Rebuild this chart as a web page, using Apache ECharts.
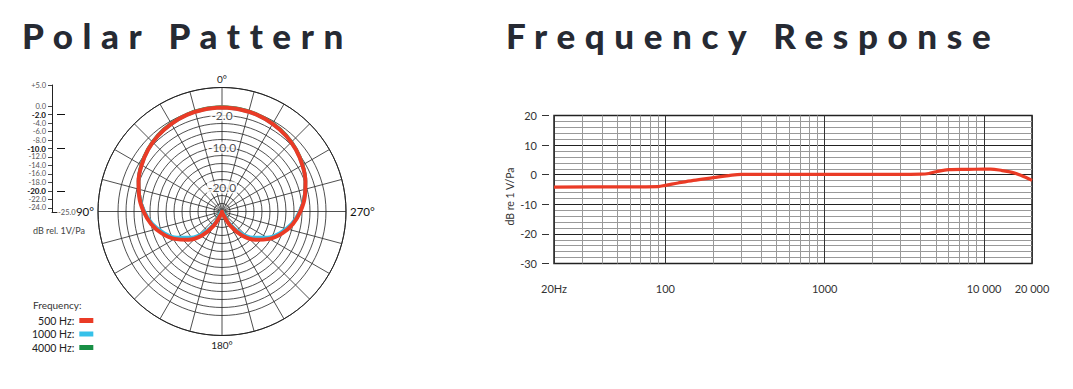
<!DOCTYPE html>
<html><head><meta charset="utf-8">
<script src="https://cdn.jsdelivr.net/npm/echarts@6/dist/echarts.min.js"></script>
<style>
html,body{margin:0;padding:0;background:#fff}
#c{width:1073px;height:389px}
#c text[style*="35px"]{letter-spacing:9.6px}
</style></head><body><div id="c"></div>
<script>
// ---- Polar pattern data (dB rel. 1V/Pa) ----
const polarAngles = [0,10,20,30,40,50,60,70,80,90,100,110,120,130,140,150,160,170,180,190,200,210,220,230,240,250,260,270,280,290,300,310,320,330,340,350,360];
const db500  = [0,-0.1,-0.3,-0.7,-1.2,-1.9,-2.8,-3.8,-5.0,-6.4,-8.0,-10.0,-12.3,-15.0,-18.2,-22.0,-25.5,-26,-26,-26,-25.5,-22.0,-18.2,-15.0,-12.3,-10.0,-8.0,-6.4,-5.0,-3.8,-2.8,-1.9,-1.2,-0.7,-0.3,-0.1,0];
const db1000 = [0,-0.1,-0.3,-0.7,-1.2,-1.9,-2.8,-3.8,-5.1,-6.6,-8.3,-10.5,-13.0,-15.9,-19.2,-23.0,-26,-26,-26,-26,-26,-23.0,-19.2,-15.9,-13.0,-10.5,-8.3,-6.6,-5.1,-3.8,-2.8,-1.9,-1.2,-0.7,-0.3,-0.1,0];
const db4000 = [0.1,0,-0.2,-0.6,-1.1,-1.8,-2.7,-3.8,-5.1,-6.5,-8.1,-10.2,-12.6,-15.4,-18.7,-22.5,-26,-26,-26,-26,-26,-22.5,-18.7,-15.4,-12.6,-10.2,-8.1,-6.5,-5.1,-3.8,-2.7,-1.8,-1.1,-0.6,-0.2,0,0.1];
const polarSeriesNames = ['500 Hz','1000 Hz','4000 Hz'];
const ringTicks = [-26,-24,-22,-20,-18,-16,-14,-12,-10,-8,-6,-4,-2,0,2,4,5];
const ringLabels = [-2,-10,-20];
const angleLabels = {0:'0°',90:'90°',180:'180°',270:'270°'};

// ---- Side scale ----
const scaleValues = [5,4,3,2,1,0,-1,-2,-3,-4,-5,-6,-7,-8,-9,-10,-11,-12,-13,-14,-15,-16,-17,-18,-19,-20,-21,-22,-23,-24,-25];
const scaleLabels = ['+5.0','','','','','0.0','','-2.0','','-4.0','','-6.0','','-8.0','','-10.0','','-12.0','','-14.0','','-16.0','','-18.0','','-20.0','','-22.0','','-24.0',''];
const scaleMajor = ['-2.0','-10.0','-20.0'];
const scaleEndLabel = '-25.0';

// ---- Frequency response data ----
const freqHz = [20,50,90,100,120,150,200,250,300,500,1000,2000,4000,4500,5000,6000,8000,10000,11000,13000,15000,17000,20000];
const respDb = [-4.2,-4.1,-4.0,-3.6,-2.8,-1.9,-1.0,-0.3,0.1,0.1,0.1,0.1,0.2,0.4,1.0,1.7,1.8,1.9,1.9,1.4,0.8,-0.2,-1.9];
const freqTickValues = [20,100,1000,10000,20000];
const freqTickLabels = ['20Hz','100','1000','10 000','20 000'];
const freqMinorLines = [30,40,50,60,70,80,90,200,300,400,500,600,700,800,900,2000,3000,4000,5000,6000,7000,8000,9000];

const RED = '#ea3b26', CYAN = '#36c1e9', GREEN = '#188f45';
const FONT = 'Lato';

const chart = echarts.init(document.getElementById('c'), null, {renderer: 'svg'});

function polarData(vals){ return polarAngles.map((a,i)=>[vals[i], a]); }

const option = {
  animation: false,
  textStyle: {fontFamily: FONT},
  title: [
    {text: 'Polar Pattern', left: 17, top: 12, textStyle: {fontFamily: FONT, fontSize: 35, fontWeight: 900, color: '#262a33'}},
    {text: 'Frequency Response', left: 501, top: 12, textStyle: {fontFamily: FONT, fontSize: 35, fontWeight: 900, color: '#262a33'}},
    {text: 'Frequency:', left: 28, top: 295, textStyle: {fontFamily: FONT, fontSize: 10, fontWeight: 'normal', color: '#333'}},
    {text: 'dB rel. 1V/Pa', left: 28, top: 221, textStyle: {fontFamily: FONT, fontSize: 9, fontWeight: 'normal', color: '#444'}}
  ],
  legend: {
    data: polarSeriesNames,
    orient: 'vertical', align: 'right',
    left: 27, top: 310,
    itemWidth: 14, itemHeight: 5, itemGap: 2.5,
    icon: 'rect',
    formatter: '{name}:',
    textStyle: {fontFamily: FONT, fontSize: 10.5, color: '#222'},
    selectedMode: false
  },
  polar: {center: [222, 211.5], radius: 124},
  angleAxis: {
    type: 'value', min: 0, max: 360, interval: 15,
    startAngle: 90, clockwise: false,
    axisLine: {show: true, lineStyle: {color: '#222', width: 1}},
    axisTick: {show: false},
    splitLine: {show: true, lineStyle: {color: '#222', width: 0.8}},
    axisLabel: {
      margin: 4,
      formatter: v => { const s = angleLabels[v]; if (!s || v === 360) return ''; return (v === 90 || v === 270) ? '{b|' + s + '}' : '{a|' + s + '}'; },
      rich: {a: {fontSize: 10, color: '#222', fontFamily: FONT}, b: {fontSize: 11.5, color: '#111', fontFamily: FONT}}
    }
  },
  radiusAxis: {
    type: 'value', min: -26, max: 5, interval: 2,
    axisLine: {show: false}, axisTick: {show: false}, axisLabel: {show: false},
    splitLine: {show: true, lineStyle: {width: 0.8, color: ringTicks.map(v => (v > 0 && v < 5) ? 'rgba(0,0,0,0)' : '#222')}}
  },
  grid: [
    {left: 554, right: 41, top: 115.5, height: 148, show: true, borderColor: '#222', borderWidth: 1.5, backgroundColor: 'transparent'},
    {left: 52, top: 85, width: 5, height: 127}
  ],
  xAxis: [
    {
      gridIndex: 0, type: 'log', logBase: 10, min: 20, max: 20000, offset: 5,
      axisLine: {show: false},
      axisTick: {show: true, length: 6, lineStyle: {color: '#333'}},
      axisLabel: {margin: 14, fontSize: 11, color: '#333', fontFamily: FONT, showMinLabel: true, showMaxLabel: true,
        formatter: v => { const i = freqTickValues.indexOf(Math.round(v)); return i >= 0 ? freqTickLabels[i] : ''; }},
      splitLine: {show: true, lineStyle: {color: '#333', width: 1}}
    },
    {
      gridIndex: 1, type: 'value', min: 0, max: 1,
      axisLine: {show: true, onZero: false, lineStyle: {color: '#222', width: 1}},
      axisTick: {show: false}, axisLabel: {show: false}, splitLine: {show: false}
    }
  ],
  yAxis: [
    {
      gridIndex: 0, type: 'value', min: -30, max: 20, interval: 10, offset: 5,
      name: 'dB re 1 V/Pa', nameLocation: 'middle', nameGap: 34, nameRotate: 90,
      nameTextStyle: {fontSize: 10.5, color: '#333', fontFamily: FONT, padding: [0, 0, 0, -14]},
      axisLine: {show: false},
      axisTick: {show: true, length: 7, lineStyle: {color: '#333'}},
      axisLabel: {margin: 12, fontSize: 11, color: '#333', fontFamily: FONT},
      splitLine: {show: true, lineStyle: {color: '#222', width: 1}},
      minorTick: {show: false, splitNumber: 5},
      minorSplitLine: {show: true, lineStyle: {color: '#999', width: 1}}
    },
    {
      gridIndex: 1, type: 'category', data: scaleValues, inverse: true, boundaryGap: false,
      axisLine: {show: true, lineStyle: {color: '#222', width: 1}},
      axisTick: {show: true, length: 4, interval: (i) => scaleLabels[i] !== '', lineStyle: {color: '#444'}},
      axisLabel: {interval: 0, margin: 6, fontSize: 7.5, color: '#555', fontFamily: FONT,
        formatter: (v, i) => { const s = scaleLabels[i]; return scaleMajor.indexOf(s) >= 0 ? '{m|' + s + '}' : s; },
        rich: {m: {fontSize: 8, fontWeight: 'bold', color: '#111', fontFamily: FONT}}},
      splitLine: {show: false}
    },
    {
      gridIndex: 1, type: 'category', data: scaleValues, inverse: true, boundaryGap: false,
      axisLine: {show: false},
      axisTick: {show: true, length: 8, interval: (i) => scaleMajor.indexOf(scaleLabels[i]) >= 0, lineStyle: {color: '#111'}},
      axisLabel: {show: false}, splitLine: {show: false}
    },
    {
      gridIndex: 1, type: 'category', data: scaleValues, inverse: true, boundaryGap: false, position: 'right',
      axisLine: {show: false}, axisTick: {show: false},
      axisLabel: {interval: 0, margin: 1, fontSize: 7.5, color: '#555', fontFamily: FONT,
        formatter: (v, i) => i === scaleValues.length - 1 ? scaleEndLabel : ''},
      splitLine: {show: false}
    }
  ],
  series: [
    {name: '4000 Hz', type: 'line', coordinateSystem: 'polar', data: polarData(db4000), smooth: 0.4, showSymbol: false, lineStyle: {color: GREEN, width: 3.5}, itemStyle: {color: GREEN}, z: 3},
    {name: '1000 Hz', type: 'line', coordinateSystem: 'polar', data: polarData(db1000), smooth: 0.4, showSymbol: false, lineStyle: {color: CYAN, width: 3.5}, itemStyle: {color: CYAN}, z: 4},
    {name: '500 Hz', type: 'line', coordinateSystem: 'polar', data: polarData(db500), smooth: 0.4, showSymbol: false, lineStyle: {color: RED, width: 4}, itemStyle: {color: RED}, z: 5},
    {name: 'ring labels', type: 'scatter', coordinateSystem: 'polar', data: ringLabels.map(v => [v, 0]), symbolSize: 1, itemStyle: {color: 'rgba(0,0,0,0)'}, z: 2,
      label: {show: true, position: 'inside', formatter: p => p.value[0].toFixed(1), backgroundColor: '#fff', padding: [0, 1], fontSize: 12, color: '#222', fontFamily: FONT}},
    {name: 'Response', type: 'line', xAxisIndex: 0, yAxisIndex: 0, data: freqHz.map((f, i) => [f, respDb[i]]), smooth: 0.35, showSymbol: false,
      lineStyle: {color: RED, width: 3.2}, itemStyle: {color: RED}, z: 5,
      markLine: {silent: true, symbol: ['none', 'none'], label: {show: false}, animation: false,
        lineStyle: {color: '#999', width: 1, type: 'solid'}, data: freqMinorLines.map(f => ({xAxis: f}))}}
  ]
};
chart.setOption(option);
</script></body></html>
